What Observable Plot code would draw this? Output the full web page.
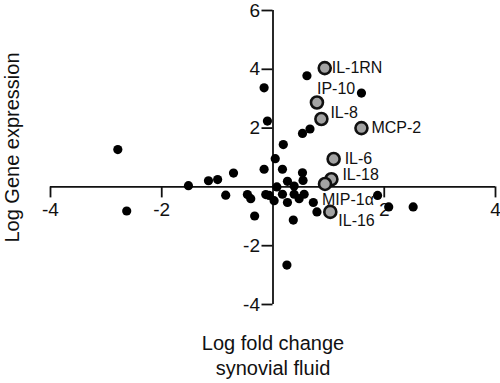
<!DOCTYPE html>
<html>
<head>
<meta charset="utf-8">
<script src="https://cdn.jsdelivr.net/npm/d3@7"></script>
<script src="https://cdn.jsdelivr.net/npm/@observablehq/plot@0.6"></script>
<style>
  body { margin: 0; background: #fff; }
  #chart svg { display: block; }
</style>
</head>
<body>
<div id="chart"></div>
<script>
// Unlabelled genes (black dots)
const dotX = [-2.79, -2.63, -1.52, -1.16, -0.995, -0.85, -0.71, -0.46, -0.40, -0.33,
              -0.16, -0.10, -0.16, -0.13, -0.07, 0.02, 0.04, 0.07, 0.185, 0.17,
              0.17, 0.26, 0.26, 0.25, 0.38, 0.38, 0.365, 0.47, 0.53, 0.54,
              0.56, 0.53, 0.665, 0.61, 0.725, 0.79, 1.59, 1.88, 2.08, 2.52];
const dotY = [1.27, -0.82, 0.04, 0.21, 0.25, -0.28, 0.47, -0.26, -0.40, -0.99,
              3.37, 2.24, 0.60, -0.26, -0.29, -0.47, 0.96, 0.0, 1.44, 0.60,
              -0.25, 0.19, -0.53, -2.66, 0.03, -0.25, -1.13, -0.40, 0.48, 0.22,
              -0.25, 1.82, 1.97, 3.78, -0.53, -0.85, 3.19, -0.29, -0.68, -0.68];

// Labelled genes (grey dots)
const geneNames = ["IL-1RN", "IP-10", "IL-8", "MCP-2", "IL-6", "IL-18", "MIP-1α", "IL-16"];
const geneX = [0.93, 0.79, 0.87, 1.59, 1.09, 1.05, 0.935, 1.03];
const geneY = [4.04, 2.87, 2.31, 2.0, 0.95, 0.26, 0.10, -0.85];

// Axis ticks
const xTicks = [-4, -2, 2, 4];
const yTicks = [-4, -2, 2, 4, 6];

const xLabel = "Log fold change\nsynovial fluid";
const yLabel = "Log Gene expression";

const dots = dotX.map((x, i) => ({x, y: dotY[i]}));
const genes = geneNames.map((name, i) => ({name, x: geneX[i], y: geneY[i]}));

// label offsets (screen pixels) relative to each grey dot
const labelOffsets = {
  "IL-1RN": {dx: 7, dy: 0},
  "IP-10": {dx: 0, dy: -14},
  "IL-8": {dx: 9, dy: -6},
  "MCP-2": {dx: 10, dy: 0},
  "IL-6": {dx: 11, dy: 0},
  "IL-18": {dx: 11, dy: -4},
  "MIP-1α": {dx: -3, dy: 16},
  "IL-16": {dx: 8, dy: 9}
};

const font = "Liberation Sans, Arial, Helvetica, sans-serif";

const chart = Plot.plot({
  width: 500,
  height: 383,
  marginLeft: 50,
  marginRight: 5,
  marginTop: 10,
  marginBottom: 79,
  style: {fontFamily: font, background: "#fff", color: "#000"},
  x: {domain: [-4, 4], axis: null},
  y: {domain: [-4, 6], axis: null},
  marks: [
    // axes lines crossing at origin
    Plot.ruleY([0], {x1: -4, x2: 4, stroke: "#111", strokeWidth: 1.8}),
    Plot.ruleX([0], {y1: -4, y2: 6, stroke: "#111", strokeWidth: 1.8}),
    // tick marks
    Plot.ruleX(xTicks, {x: d => d, y1: 0, y2: 0, insetBottom: -11, stroke: "#111", strokeWidth: 1.8}),
    Plot.ruleY(yTicks, {y: d => d, x1: 0, x2: 0, insetLeft: -11, stroke: "#111", strokeWidth: 1.8}),
    // tick labels
    Plot.text(xTicks, {x: d => d, y: 0, text: d => String(d), lineAnchor: "top", dy: 16, fontSize: 19, fill: "#111"}),
    Plot.text(yTicks, {x: 0, y: d => d, text: d => String(d), textAnchor: "end", dx: -13, fontSize: 19, fill: "#111"}),
    // black dots
    Plot.dot(dots, {x: "x", y: "y", r: 4.6, fill: "#000", stroke: "none"}),
    // grey labelled dots
    Plot.dot(genes, {x: "x", y: "y", r: 6, fill: "#a3a3a3", stroke: "#111", strokeWidth: 2.6}),
    // gene labels
    ...genes.map(g => Plot.text([g], {
      x: "x", y: "y", text: "name", textAnchor: "start",
      dx: labelOffsets[g.name].dx, dy: labelOffsets[g.name].dy,
      fontSize: 16, fill: "#111"
    })),
    // axis titles
    Plot.text([xLabel], {frameAnchor: "bottom", text: d => d, textAnchor: "middle", lineAnchor: "top", dy: 28, fontSize: 20, lineHeight: 1.25, fill: "#111"}),
    Plot.text([yLabel], {frameAnchor: "left", text: d => d, textAnchor: "middle", lineAnchor: "middle", rotate: -90, dx: -38, dy: -10, fontSize: 20, fill: "#111"})
  ]
});

document.getElementById("chart").appendChild(chart);
</script>
</body>
</html>
